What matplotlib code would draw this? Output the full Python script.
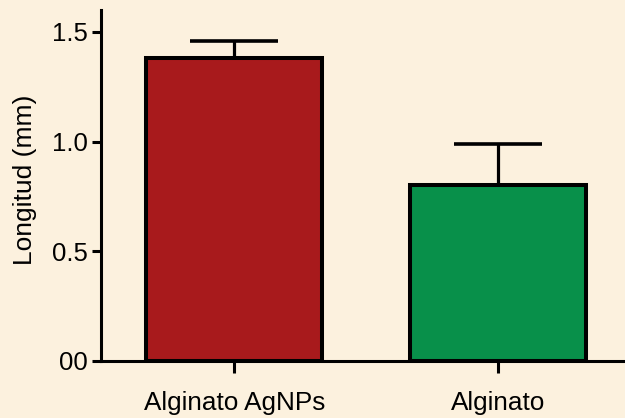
import matplotlib
matplotlib.use("Agg")
import matplotlib.pyplot as plt

# Data
categories = ["Alginato AgNPs", "Alginato"]
values = [1.38, 0.80]
errors_up = [0.08, 0.19]
bar_colors = ["#a81a1c", "#08904a"]
ytick_vals = [0.0, 0.5, 1.0, 1.5]
ytick_labels = ["00", "0.5", "1.0", "1.5"]

bg = "#fcf1de"
plt.rcParams["font.family"] = ["Liberation Sans", "DejaVu Sans"]

fig = plt.figure(figsize=(6.25, 4.18), dpi=100, facecolor=bg)
ax = fig.add_axes([0.1616, 0.1364, 0.8384, 0.84])
ax.set_facecolor(bg)

x = list(range(len(categories)))
ax.bar(x, values, width=0.667, color=bar_colors, edgecolor="black",
       linewidth=2.9, zorder=2)
ax.errorbar(x, values, yerr=[[0] * len(values), errors_up], fmt="none",
            ecolor="black", elinewidth=2.3, capsize=32, capthick=2.6, zorder=1)

ax.set_xlim(-0.505, 1.48)
ax.set_ylim(0, 1.6)
ax.set_yticks(ytick_vals)
ax.set_yticklabels(ytick_labels)
ax.set_xticks(x)
ax.set_xticklabels(categories)
ax.set_ylabel("Longitud (mm)", fontsize=19, labelpad=11)
ax.yaxis.label.set_y(0.515)

for s in ["top", "right"]:
    ax.spines[s].set_visible(False)
for s in ["left", "bottom"]:
    ax.spines[s].set_linewidth(2.2)
ax.tick_params(axis="x", width=2.2, length=8.5, labelsize=18.8,
               direction="out", pad=13)
ax.tick_params(axis="y", width=2.2, length=6.5, labelsize=18.5,
               direction="out", pad=3)

fig.savefig("out.png", dpi=100, facecolor=bg)
